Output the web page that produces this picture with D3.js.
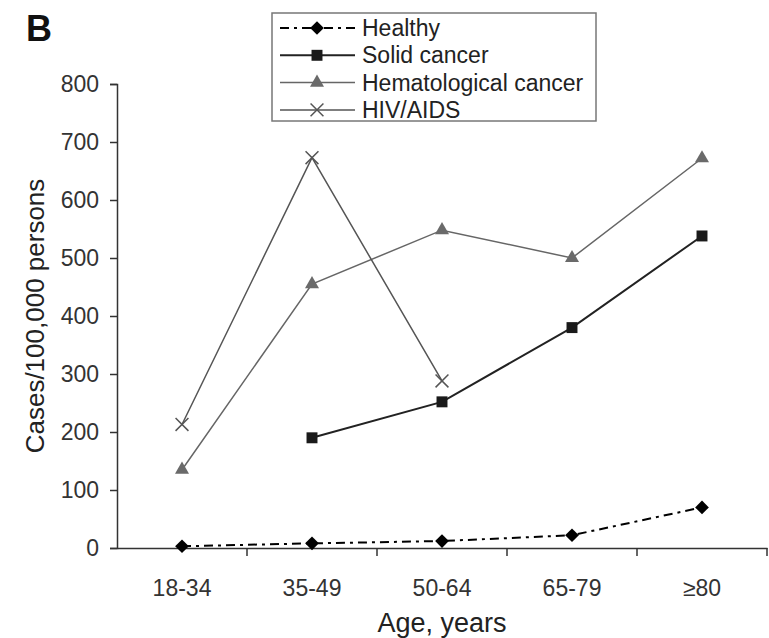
<!DOCTYPE html>
<html>
<head>
<meta charset="utf-8">
<script src="https://cdn.jsdelivr.net/npm/d3@7"></script>
<style>
  body { margin: 0; background: #fff; }
  svg { font-family: "Liberation Sans", Arial, sans-serif; }
</style>
</head>
<body>
<div id="app"></div>
<script>
// age groups on the x axis
const ageGroups = ['18-34', '35-49', '50-64', '65-79', '\u226580'];
const yTicks = [0, 100, 200, 300, 400, 500, 600, 700, 800];

// cases per 100,000 persons (null = no point)
const healthy = [3, 8, 12, 22, 70];
const solidCancer = [null, 190, 252, 380, 538];
const hematoCancer = [135, 455, 548, 500, 672];
const hivAids = [213, 673, 288, null, null];

const width = 769, height = 638;

const svg = d3.select('#app')
  .append('svg')
  .attr('width', width)
  .attr('height', height);

const x = d3.scaleBand()
  .domain(ageGroups)
  .range([117, 767]);

const y = d3.scaleLinear()
  .domain([0, 800])
  .range([548, 84]);

const cx = d => x(d) + x.bandwidth() / 2;

// y axis
const yAxis = svg.append('g')
  .attr('transform', 'translate(117,0)')
  .call(d3.axisLeft(y).tickValues(yTicks).tickSizeOuter(0).tickSize(7).tickPadding(11));
yAxis.select('.domain').attr('stroke', '#333').attr('stroke-width', 1.5);
yAxis.selectAll('.tick line').attr('stroke', '#333').attr('stroke-width', 1.5);
yAxis.selectAll('text').attr('font-size', 23).attr('fill', '#333');

// x axis: labels centred, tick marks at the category boundaries
const xAxis = svg.append('g')
  .attr('transform', 'translate(0,548)')
  .call(d3.axisBottom(x).tickSize(0).tickSizeOuter(0).tickPadding(32));
xAxis.select('.domain').attr('stroke', '#333').attr('stroke-width', 1.5);
xAxis.selectAll('text').attr('font-size', 23).attr('fill', '#333');

svg.append('g').selectAll('line')
  .data(ageGroups)
  .enter()
  .append('line')
  .attr('x1', d => x(d) + x.bandwidth())
  .attr('x2', d => x(d) + x.bandwidth())
  .attr('y1', 548)
  .attr('y2', 556)
  .attr('stroke', '#333')
  .attr('stroke-width', 1.5);

// axis titles
svg.append('text')
  .attr('transform', 'translate(44,' + y(400) + ') rotate(-90)')
  .attr('text-anchor', 'middle')
  .attr('font-size', 26)
  .attr('fill', '#222')
  .text('Cases/100,000 persons');

svg.append('text')
  .attr('x', 442)
  .attr('y', 632)
  .attr('text-anchor', 'middle')
  .attr('font-size', 27)
  .attr('fill', '#222')
  .text('Age, years');

svg.append('text')
  .attr('x', 26)
  .attr('y', 41)
  .attr('font-size', 36)
  .attr('font-weight', 'bold')
  .attr('fill', '#111')
  .text('B');

// series
const series = [
  { name: 'Healthy', values: healthy, color: '#000', width: 2, dash: '9,5,3,5', marker: d3.symbolDiamond2, size: 120, mcolor: '#000' },
  { name: 'Solid cancer', values: solidCancer, color: '#222', width: 2, dash: null, marker: d3.symbolSquare, size: 120, mcolor: '#1a1a1a' },
  { name: 'Hematological cancer', values: hematoCancer, color: '#666', width: 1.5, dash: null, marker: d3.symbolTriangle, size: 85, mcolor: '#6a6a6a' },
  { name: 'HIV/AIDS', values: hivAids, color: '#555', width: 1.5, dash: null, marker: d3.symbolX, size: 110, mcolor: '#555' }
];

const line = d3.line()
  .defined(d => d.v !== null)
  .x(d => cx(d.c))
  .y(d => y(d.v));

series.forEach(s => {
  const pts = ageGroups.map((c, i) => ({ c: c, v: s.values[i] }));
  svg.append('path')
    .datum(pts)
    .attr('d', line)
    .attr('fill', 'none')
    .attr('stroke', s.color)
    .attr('stroke-width', s.width)
    .attr('stroke-dasharray', s.dash);

  const sym = d3.symbol().type(s.marker).size(s.size);
  svg.append('g').selectAll('path')
    .data(pts.filter(d => d.v !== null))
    .enter()
    .append('path')
    .attr('transform', d => `translate(${cx(d.c)},${y(d.v)})`)
    .attr('d', sym)
    .attr('fill', s.marker === d3.symbolX ? 'none' : s.mcolor)
    .attr('stroke', s.mcolor)
    .attr('stroke-width', s.marker === d3.symbolX ? 1.5 : 0);
});

// legend
const legend = svg.append('g');
legend.append('rect')
  .attr('x', 272)
  .attr('y', 13)
  .attr('width', 324)
  .attr('height', 108)
  .attr('fill', '#fff')
  .attr('stroke', '#777')
  .attr('stroke-width', 1.5);

series.forEach((s, i) => {
  const ly = 28 + i * 27.3;
  legend.append('line')
    .attr('x1', 280).attr('x2', 355)
    .attr('y1', ly).attr('y2', ly)
    .attr('stroke', s.color)
    .attr('stroke-width', s.width)
    .attr('stroke-dasharray', s.dash);
  legend.append('path')
    .attr('transform', `translate(317,${ly})`)
    .attr('d', d3.symbol().type(s.marker).size(s.size)())
    .attr('fill', s.marker === d3.symbolX ? 'none' : s.mcolor)
    .attr('stroke', s.mcolor)
    .attr('stroke-width', s.marker === d3.symbolX ? 1.5 : 0);
  legend.append('text')
    .attr('x', 362)
    .attr('y', ly)
    .attr('dy', '0.35em')
    .attr('font-size', 23)
    .attr('fill', '#222')
    .text(s.name);
});
</script>
</body>
</html>
